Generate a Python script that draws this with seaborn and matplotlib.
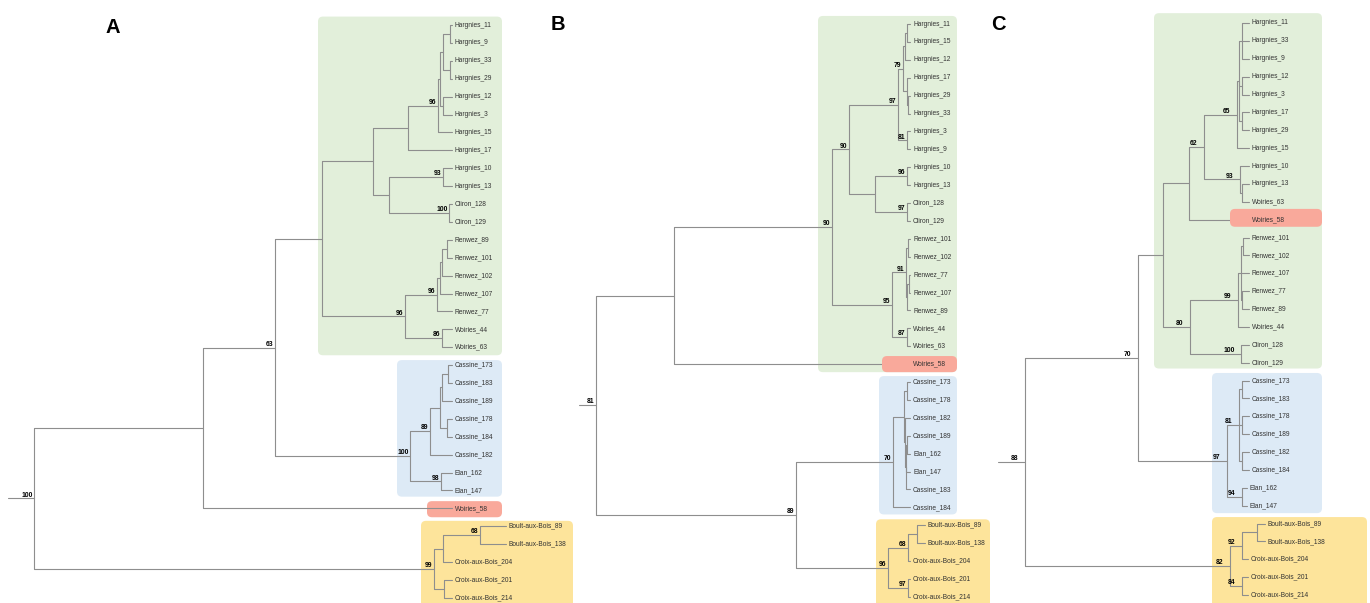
import matplotlib
matplotlib.use("Agg")
import matplotlib.pyplot as plt
from matplotlib.patches import FancyBboxPatch
import pandas as pd
import seaborn as sns

# Trees in Newick form, written clade by clade. The number after ':' is the node
# depth measured from the left end of the root stub (not a branch length); the
# number before it is the bootstrap support shown at that node (0 = not shown).

# --- A ---
a_harg = ("((((Hargnies_11:444,Hargnies_9:444)0:442,(Hargnies_33:444,Hargnies_29:444)0:442)0:435,"
          "(Hargnies_12:444,Hargnies_3:444)0:435)0:432,Hargnies_15:444)96:430")
a_renwez = ("(((((Renwez_89:444,Renwez_101:444)0:439,Renwez_102:444)0:434,Renwez_107:444)0:432,"
            "Renwez_77:444)96:429,(Woiries_44:444,Woiries_63:444)86:434)96:397")
a_green = ("(((" + a_harg + ",Hargnies_17:444)0:400,((Hargnies_10:444,Hargnies_13:444)93:435,"
           "(Cliron_128:444,Cliron_129:444)100:441)0:381)0:365," + a_renwez + ")0:314")
a_blue = ("(((((Cassine_173:444,Cassine_183:444)0:440,Cassine_189:444)0:434,"
          "(Cassine_178:444,Cassine_184:444)0:439)0:432,Cassine_182:444)89:422,"
          "(Elan_162:444,Elan_147:444)98:433)100:402")
a_yellow = ("(((Boult-aux-Bois_89:498,Boult-aux-Bois_138:498)68:472,Croix-aux-Bois_204:444)0:435,"
            "(Croix-aux-Bois_201:444,Croix-aux-Bois_214:444)0:436)99:426")
tree_a = "(((" + a_green + "," + a_blue + ")63:267,Woiries_58:444)0:195," + a_yellow + ")100:26"

# --- B ---
b_harg = ("((((Hargnies_11:331,Hargnies_15:331)0:328,Hargnies_12:331)0:326,"
          "(Hargnies_17:331,(Hargnies_29:331,Hargnies_33:331)0:329)0:328)79:324,"
          "(Hargnies_3:331,Hargnies_9:331)81:328)97:319")
b_renwez = ("(((Renwez_101:331,Renwez_102:331)0:329,((Renwez_77:331,Renwez_107:331)0:330,"
            "Renwez_89:331)0:328)91:327,(Woiries_44:331,Woiries_63:331)87:328)95:313")
b_green = ("((" + b_harg + ",((Hargnies_10:331,Hargnies_13:331)96:328,"
           "(Cliron_128:331,Cliron_129:331)97:328)0:296)90:270," + b_renwez + ")90:253")
b_blue = ("(((Cassine_173:331,Cassine_178:331)0:328,(Cassine_182:331,((Cassine_189:331,"
          "Elan_162:331)0:328,Elan_147:331,Cassine_183:331)0:327)0:326)0:325,Cassine_184:331)70:314")
b_yellow = ("(((Boult-aux-Bois_89:346,Boult-aux-Bois_138:346)0:338,Croix-aux-Bois_204:331)68:329,"
            "(Croix-aux-Bois_201:331,Croix-aux-Bois_214:331)97:329)96:309")
tree_b = "((" + b_green + ",Woiries_58:331)0:95,(" + b_blue + "," + b_yellow + ")89:217)81:17"

# --- C ---
c_harg = ("((((Hargnies_11:251,Hargnies_33:251,Hargnies_9:251)0:244,(Hargnies_12:251,Hargnies_3:251)0:244,"
          "(Hargnies_17:251,Hargnies_29:251)0:244)0:241,Hargnies_15:251)65:239,"
          "(Hargnies_10:251,(Hargnies_13:251,Woiries_63:251)0:244)93:242)62:206")
c_green = ("((" + c_harg + ",Woiries_58:251)0:191,((((Renwez_101:251,Renwez_102:251)0:245,"
           "Renwez_107:251,(Renwez_77:251,Renwez_89:251)0:244)0:243,Woiries_44:251)99:240,"
           "(Cliron_128:251,Cliron_129:251)100:243)80:192)0:165")
c_blue = ("(((Cassine_173:251,Cassine_183:251)0:244,(Cassine_178:251,Cassine_189:251)0:244,"
          "(Cassine_182:251,Cassine_184:251)0:244)81:241,(Elan_162:249,Elan_147:249)94:244)97:229")
c_yellow = ("(((Boult-aux-Bois_89:267,Boult-aux-Bois_138:267)0:259,Croix-aux-Bois_204:250)92:244,"
            "(Croix-aux-Bois_201:250,Croix-aux-Bois_214:250)84:244)82:232")
tree_c = "((" + c_green + "," + c_blue + ")70:140," + c_yellow + ")88:27"

GREEN, BLUE, RED, YELLOW = "#e2efda", "#ddeaf6", "#f9a99b", "#fde49b"

# clade boxes: first leaf, last leaf, left/right depth, padding above/below (rows), colour, zorder
boxes_a = [("Hargnies_11", "Woiries_63", 310, 494, 0.47, 0.45, GREEN, 1),
           ("Cassine_173", "Elan_147", 389, 494, 0.28, 0.35, BLUE, 1),
           ("Woiries_58", "Woiries_58", 419, 494, 0.4, 0.5, RED, 1),
           ("Boult-aux-Bois_89", "Croix-aux-Bois_214", 413, 565, 0.3, 0.8, YELLOW, 1)]
boxes_b = [("Hargnies_11", "Woiries_58", 239, 378, 0.45, 0.45, GREEN, 1),
           ("Woiries_58", "Woiries_58", 303, 378, 0.45, 0.45, RED, 3.5),
           ("Cassine_173", "Cassine_184", 300, 378, 0.33, 0.4, BLUE, 1),
           ("Boult-aux-Bois_89", "Croix-aux-Bois_214", 297, 411, 0.33, 0.8, YELLOW, 1)]
boxes_c = [("Hargnies_11", "Cliron_129", 156, 324, 0.55, 0.33, GREEN, 1),
           ("Woiries_58", "Woiries_58", 232, 324, 0.6, 0.4, RED, 3.5),
           ("Cassine_173", "Elan_147", 214, 324, 0.42, 0.42, BLUE, 1),
           ("Boult-aux-Bois_89", "Croix-aux-Bois_214", 214, 369, 0.36, 0.8, YELLOW, 1)]

# letter, tree, boxes, left px, first row px, row step px, support label gap, letter x, letter baseline
panels = [("A", tree_a, boxes_a, 8, 25, 17.9, 1.5, 106, 33),
          ("B", tree_b, boxes_b, 579, 24, 17.9, 1.5, 551, 30),
          ("C", tree_c, boxes_c, 998, 23, 17.875, 6.5, 991, 30)]


def parse_newick(text):
    text = "".join(text.split()) + ";"
    pos = 0

    def read():
        nonlocal pos
        kids = []
        if text[pos] == "(":
            pos += 1
            kids.append(read())
            while text[pos] == ",":
                pos += 1
                kids.append(read())
            assert text[pos] == ")", text[:pos]
            pos += 1
        start = pos
        while text[pos] not in ",);":
            pos += 1
        label, depth = text[start:pos].split(":")
        return {"label": label, "x": float(depth), "kids": kids}

    node = read()
    assert text[pos] == ";", "unbalanced tree"
    return node


def layout(node, leaves):
    if not node["kids"]:
        node["y"] = len(leaves)
        leaves.append(node)
        return
    for k in node["kids"]:
        layout(k, leaves)
    node["y"] = (node["kids"][0]["y"] + node["kids"][-1]["y"]) / 2


def collect(node, rows, inner):
    if node["kids"]:
        inner.append(node)
    for k in node["kids"]:
        e = len(rows) // 3
        rows += [(e, node["x"], node["y"]), (e, node["x"], k["y"]), (e, k["x"], k["y"])]
        collect(k, rows, inner)


sns.set_theme(style="white")
plt.rcParams["font.family"] = ["Liberation Sans", "DejaVu Sans"]

W, H = 1370, 603
fig = plt.figure(figsize=(W / 100, H / 100), dpi=100)

for letter, tree, boxes, x0, y0, dy, gap, lx, lb in panels:
    ax = fig.add_axes([0, 0, 1, 1])
    ax.patch.set_alpha(0)

    root = parse_newick(tree)
    leaves = []
    layout(root, leaves)
    row_of = {n["label"]: n["y"] for n in leaves}

    rows, inner = [], []
    collect(root, rows, inner)
    e = len(rows) // 3 + 1
    rows += [(e, 0, root["y"]), (e, root["x"], root["y"])]
    edges = pd.DataFrame(rows, columns=["edge", "x", "y"])

    for first, last, bx0, bx1, pt, pb, col, z in boxes:
        r0, r1 = row_of[first] - pt, row_of[last] + pb
        ax.add_patch(FancyBboxPatch((bx0, r0), bx1 - bx0, r1 - r0,
                                    boxstyle="round,pad=0,rounding_size=5",
                                    mutation_aspect=1 / dy, fc=col, ec="none", zorder=z))

    sns.lineplot(data=edges, x="x", y="y", units="edge", estimator=None, sort=False,
                 color="#8e8e8e", linewidth=0.8, ax=ax, zorder=3)

    for n in leaves:
        ax.text(n["x"] + 3, n["y"], n["label"], ha="left", va="center",
                fontsize=4.8, color="#333333", zorder=4)
    for n in inner:
        if n["label"] != "0":
            ax.text(n["x"] - gap, n["y"] - 0.1, n["label"], ha="right", va="baseline",
                    fontsize=4.9, fontweight="bold", color="black", zorder=4)

    ax.set_xlim(-x0, W - x0)
    ax.set_ylim((H - y0) / dy, -y0 / dy)
    ax.set_axis_off()

    fig.text(lx / W, 1 - lb / H, letter, fontsize=14.5, fontweight="bold",
             color="black", va="baseline")

fig.savefig("out.png", dpi=100)
